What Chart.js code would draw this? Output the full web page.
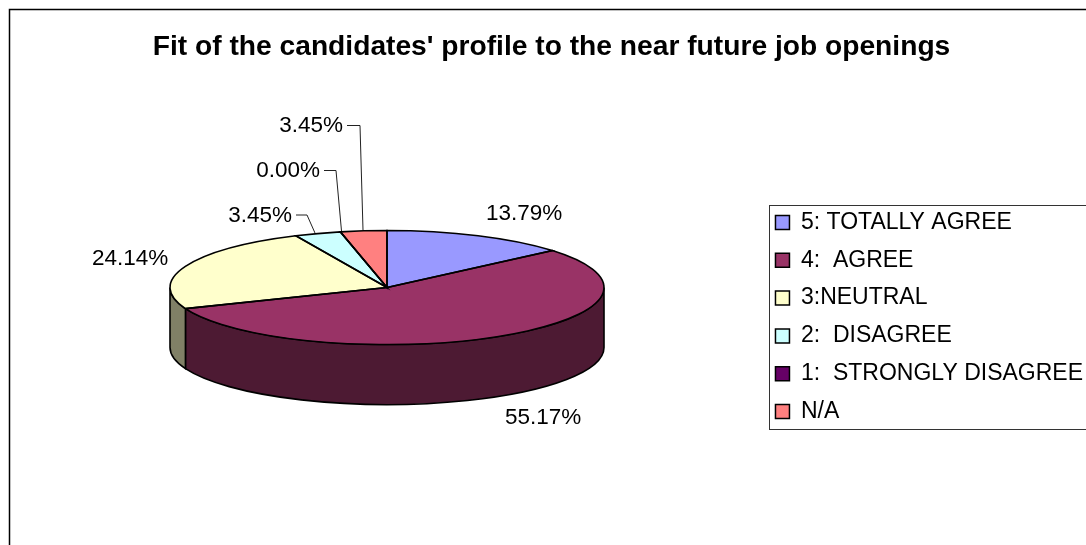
<!DOCTYPE html>
<html>
<head>
<meta charset="utf-8">
<title>Fit of the candidates' profile</title>
<script src="https://cdn.jsdelivr.net/npm/chart.js@4/dist/chart.umd.min.js"></script>
<style>
  html, body { margin: 0; padding: 0; background: #fff; overflow: hidden; }
  canvas { display: block; }
</style>
</head>
<body>
<canvas id="mycanvas" width="1086" height="545"></canvas>
<script>
var chartTitle = "Fit of the candidates' profile to the near future job openings";
var categories = ['5: TOTALLY AGREE', '4:  AGREE', '3:NEUTRAL', '2:  DISAGREE', '1:  STRONGLY DISAGREE', 'N/A'];
var percents = [13.79, 55.17, 24.14, 3.45, 0.00, 3.45];
var sliceColors = ['#9999FF', '#993366', '#FFFFCC', '#CCFFFF', '#660066', '#FF8080'];
var wallColors = ['#4D4D80', '#4D1A33', '#808066', '#668080', '#330033', '#804040'];

// where the pie sits on the page, it is tilted so rx and ry differ
var pieX = 387, pieY = 287.5, pieRx = 217, pieRy = 57, pieDepth = 60;

// label text anchor for each slice: x, y, align, then leader line points if any
var labelSpots = [
  { x: 486, y: 213.5, align: 'left' },
  { x: 505, y: 417.5, align: 'left' },
  { x: 92, y: 258.5, align: 'left' },
  { x: 292, y: 215.5, align: 'right', leader: [[296, 215], [307, 215], [315, 233]] },
  { x: 320, y: 170.5, align: 'right', leader: [[324, 170.5], [336, 170.5], [341.5, 231]] },
  { x: 343, y: 126, align: 'right', leader: [[347, 125.5], [360, 125.5], [363, 230]] }
];

var tiltedPie = {
  id: 'tiltedPie',
  beforeDraw: function(chart) {
    var ctx = chart.ctx;
    ctx.save();
    ctx.fillStyle = '#fff';
    ctx.fillRect(0, 0, chart.width, chart.height);
    // outer frame runs off the right and bottom of the picture
    ctx.strokeStyle = '#000';
    ctx.lineWidth = 1.5;
    ctx.strokeRect(9.5, 9.5, chart.width + 20, chart.height + 20);
    // legend frame
    ctx.strokeStyle = '#333';
    ctx.lineWidth = 1;
    ctx.strokeRect(769.5, 205.5, chart.width, 224);
    ctx.restore();
  },
  beforeDatasetsDraw: function(chart) {
    var ctx = chart.ctx;
    var arcs = chart.getDatasetMeta(0).data;
    ctx.save();
    ctx.lineWidth = 1.6;
    ctx.strokeStyle = '#000';
    // walls of the front half
    arcs.forEach(function(arc, i) {
      var from = Math.max(arc.startAngle, 0);
      var to = Math.min(arc.endAngle, Math.PI);
      if (to <= from) return;
      ctx.beginPath();
      ctx.ellipse(pieX, pieY, pieRx, pieRy, 0, from, to);
      ctx.ellipse(pieX, pieY + pieDepth, pieRx, pieRy, 0, to, from, true);
      ctx.closePath();
      ctx.fillStyle = wallColors[i];
      ctx.fill();
      ctx.stroke();
    });
    ctx.restore();
    // squash the library's round pie into the tilted top
    var first = arcs[0];
    ctx.save();
    ctx.translate(pieX, pieY);
    ctx.scale(1, pieRy / pieRx);
    ctx.translate(-first.x, -first.y);
  },
  afterDatasetsDraw: function(chart) {
    var ctx = chart.ctx;
    ctx.restore();
    ctx.save();
    ctx.lineWidth = 1.6;
    ctx.strokeStyle = '#000';
    chart.getDatasetMeta(0).data.forEach(function(arc) {
      ctx.beginPath();
      ctx.moveTo(pieX, pieY);
      ctx.ellipse(pieX, pieY, pieRx, pieRy, 0, arc.startAngle, arc.endAngle);
      ctx.closePath();
      ctx.stroke();
    });
    ctx.restore();
  },
  afterDraw: function(chart) {
    var ctx = chart.ctx;
    ctx.save();
    ctx.font = '22.5px "Liberation Sans", Arial, sans-serif';
    ctx.fillStyle = '#000';
    ctx.textBaseline = 'middle';
    percents.forEach(function(p, i) {
      var spot = labelSpots[i];
      ctx.textAlign = spot.align;
      ctx.fillText(p.toFixed(2) + '%', spot.x, spot.y);
      if (spot.leader) {
        ctx.strokeStyle = '#222';
        ctx.lineWidth = 1;
        ctx.beginPath();
        spot.leader.forEach(function(pt, j) {
          if (j === 0) ctx.moveTo(pt[0], pt[1]);
          else ctx.lineTo(pt[0], pt[1]);
        });
        ctx.stroke();
      }
    });
    ctx.restore();
  }
};

var ctx = document.getElementById('mycanvas');

var pieGraph = new Chart(ctx, {
  type: 'pie',
  data: {
    labels: categories,
    datasets: [{
      data: percents,
      backgroundColor: sliceColors,
      borderWidth: 0,
      radius: pieRx,
      clip: false
    }]
  },
  options: {
    responsive: false,
    devicePixelRatio: 1,
    animation: false,
    layout: { padding: { left: 10, right: -7 } },
    plugins: {
      tooltip: { enabled: false },
      title: {
        display: true,
        text: chartTitle,
        color: '#000',
        font: { family: '"Liberation Sans", Arial, sans-serif', size: 28.2, weight: 'bold' },
        padding: { top: 30, bottom: 25.2 }
      },
      legend: {
        position: 'right',
        fullSize: false,
        labels: {
          color: '#000',
          font: { family: '"Liberation Sans", Arial, sans-serif', size: 23 },
          boxWidth: 14,
          boxHeight: 14,
          padding: 14.8,
          generateLabels: function() {
            return categories.map(function(name, i) {
              return { text: name, fillStyle: sliceColors[i], strokeStyle: '#000', lineWidth: 1.5, index: i };
            });
          }
        }
      }
    }
  },
  plugins: [tiltedPie]
});
</script>
</body>
</html>
